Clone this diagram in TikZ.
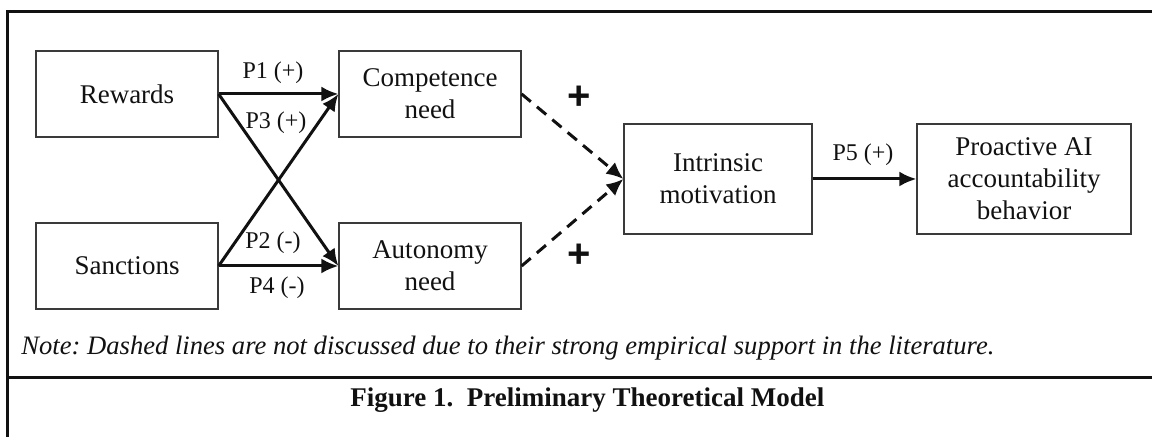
\documentclass[tikz,border=0pt]{standalone}
\usepackage{fontspec}
\setmainfont{Liberation Serif}
\setsansfont{Liberation Sans}
\usetikzlibrary{arrows.meta,positioning}
\definecolor{mdink}{HTML}{111111}
\definecolor{mdbox}{HTML}{3A3A3A}
\tikzset{
  cbox/.style={draw=mdbox,line width=0.6pt,inner sep=0pt,align=center,
               minimum width=91pt,minimum height=43pt,
               font=\fontsize{13.5}{16}\selectfont,text=mdink},
  pathe/.style={-{Latex[length=8.5pt,width=7.5pt]},line width=1.5pt,draw=mdink},
  suppe/.style={-{Latex[length=8.5pt,width=7.5pt]},line width=1.5pt,
                dash pattern=on 6pt off 4pt,draw=mdink},
  plab/.style={font=\fontsize{12}{14}\selectfont,text=mdink,inner sep=0pt},
  sign/.style={font=\sffamily\bfseries\fontsize{20}{20}\selectfont,text=mdink,inner sep=0pt},
  framel/.style={line width=1.5pt,draw=mdink},
}

\begin{document}
\frenchspacing
\begin{tikzpicture}[x=0.5pt,y=-0.5pt]
  \useasboundingbox (0,0) rectangle (1152,437);

  % ---- frame ----
  \draw[framel] (1152,12) -- (7,12) -- (7,437);
  \draw[framel] (7,378) -- (1152,378);

  % ---- constructs ----
  \node[cbox] (rew)  at (127,94)  {Rewards};
  \node[cbox] (san)  at (127,266) {Sanctions};
  \node[cbox] (comp) at (430,94)  {Competence\\need};
  \node[cbox] (auto) at (430,266) {Autonomy\\need};
  \node[cbox,minimum width=94pt,minimum height=55pt]   (intr) at (718,179)  {Intrinsic\\motivation};
  \node[cbox,minimum width=107pt,minimum height=55pt]  (proa) at (1024,179) {Proactive AI\\accountability\\behavior};

  % ---- propositions ----
  \draw[pathe] (rew.east) -- (comp.west);
  \draw[pathe] (rew.east) -- (auto.west);
  \draw[pathe] (san.east) -- (comp.west);
  \draw[pathe] (san.east) -- (auto.west);
  \draw[pathe] (intr.east) -- (proa.west);
  \node[plab] (p1) at (273,73)  {P1 (+)};
  \node[plab] (p3) at (276,123) {P3 (+)};
  \node[plab] (p2) at (273,243) {P2 (-)};
  \node[plab] (p4) at (277,288) {P4 (-)};
  \node[plab] (p5) at (863,155) {P5 (+)};

  % ---- supported links (dashed) ----
  \draw[suppe] (comp.east) -- (intr.west);
  \draw[suppe] (auto.east) -- (intr.west);
  \node[sign] (s1) at (579,98)  {+};
  \node[sign] (s2) at (579,256) {+};

  % ---- note and caption ----
  \node[anchor=west,inner sep=0pt,font=\itshape\fontsize{13.3}{16}\selectfont,text=mdink] (note) at (21,348)
    {Note: Dashed lines are not discussed due to their strong empirical support in the literature.};
  \node[anchor=west,inner sep=0pt,font=\bfseries\fontsize{13.5}{16}\selectfont,text=mdink] (cap) at (350,400)
    {Figure 1.\ \ Preliminary Theoretical Model};
\end{tikzpicture}
\end{document}
